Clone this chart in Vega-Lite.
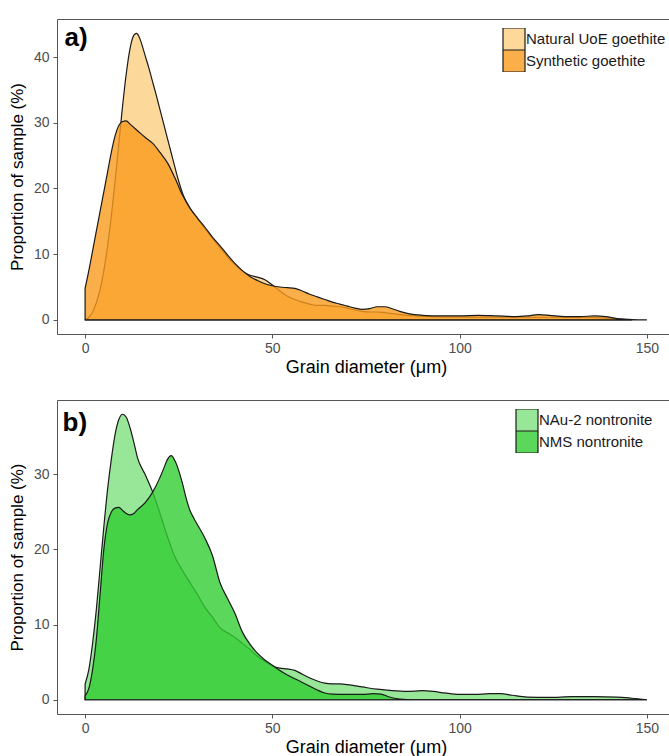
{
  "$schema": "https://vega.github.io/schema/vega-lite/v6.json",
  "padding": {"left": 7, "top": 18, "right": 0, "bottom": 0},
  "bounds": "flush",
  "spacing": 66,
  "config": {
    "font": "Liberation Sans",
    "view": {"stroke": "#555555", "strokeWidth": 1},
    "axis": {"grid": false, "domain": false, "tickColor": "#555555", "tickSize": 4, "labelColor": "#4d4d4d", "labelFontSize": 14, "labelPadding": 3, "titleFontSize": 18, "titleFontWeight": "normal", "titleColor": "#000000"},
    "axisY": {"labelPadding": 4, "titlePadding": 7, "titleFontSize": 17},
    "axisX": {"titlePadding": 3},
    "legend": {"title": null, "padding": 0, "symbolType": "square", "symbolSize": 484, "symbolStrokeColor": "#1a1a1a", "symbolStrokeWidth": 1.2, "symbolOpacity": 1, "labelFontSize": 15, "labelColor": "#1a1a1a", "labelOffset": 0, "rowPadding": 0, "clipHeight": 22}
  },
  "resolve": {"scale": {"fill": "independent"}, "legend": {"fill": "independent"}},
  "datasets": {
    "goethite": [
      {"sample": "Natural UoE goethite", "diameter": 0, "proportion": 0},
      {"sample": "Natural UoE goethite", "diameter": 1, "proportion": 0.4},
      {"sample": "Natural UoE goethite", "diameter": 2, "proportion": 1.2},
      {"sample": "Natural UoE goethite", "diameter": 3, "proportion": 2.6},
      {"sample": "Natural UoE goethite", "diameter": 4, "proportion": 4.6},
      {"sample": "Natural UoE goethite", "diameter": 5, "proportion": 7.5},
      {"sample": "Natural UoE goethite", "diameter": 6, "proportion": 11.2},
      {"sample": "Natural UoE goethite", "diameter": 7, "proportion": 15.8},
      {"sample": "Natural UoE goethite", "diameter": 8, "proportion": 21},
      {"sample": "Natural UoE goethite", "diameter": 9, "proportion": 26.8},
      {"sample": "Natural UoE goethite", "diameter": 10, "proportion": 32.5},
      {"sample": "Natural UoE goethite", "diameter": 11, "proportion": 37.5},
      {"sample": "Natural UoE goethite", "diameter": 12, "proportion": 41.3},
      {"sample": "Natural UoE goethite", "diameter": 13, "proportion": 43.3},
      {"sample": "Natural UoE goethite", "diameter": 13.7, "proportion": 43.6},
      {"sample": "Natural UoE goethite", "diameter": 14.5, "proportion": 43},
      {"sample": "Natural UoE goethite", "diameter": 15, "proportion": 42.2},
      {"sample": "Natural UoE goethite", "diameter": 16, "proportion": 40.3},
      {"sample": "Natural UoE goethite", "diameter": 17, "proportion": 38.4},
      {"sample": "Natural UoE goethite", "diameter": 18, "proportion": 36.3},
      {"sample": "Natural UoE goethite", "diameter": 19, "proportion": 34.2},
      {"sample": "Natural UoE goethite", "diameter": 20, "proportion": 32},
      {"sample": "Natural UoE goethite", "diameter": 21, "proportion": 29.8},
      {"sample": "Natural UoE goethite", "diameter": 22, "proportion": 27.6},
      {"sample": "Natural UoE goethite", "diameter": 23, "proportion": 25.4},
      {"sample": "Natural UoE goethite", "diameter": 24, "proportion": 23.2},
      {"sample": "Natural UoE goethite", "diameter": 25, "proportion": 21.1},
      {"sample": "Natural UoE goethite", "diameter": 26, "proportion": 19.3},
      {"sample": "Natural UoE goethite", "diameter": 28, "proportion": 17},
      {"sample": "Natural UoE goethite", "diameter": 30, "proportion": 15.4},
      {"sample": "Natural UoE goethite", "diameter": 32, "proportion": 13.9},
      {"sample": "Natural UoE goethite", "diameter": 34, "proportion": 12.4},
      {"sample": "Natural UoE goethite", "diameter": 36, "proportion": 11},
      {"sample": "Natural UoE goethite", "diameter": 38, "proportion": 9.6},
      {"sample": "Natural UoE goethite", "diameter": 40, "proportion": 8.4},
      {"sample": "Natural UoE goethite", "diameter": 42, "proportion": 7.4},
      {"sample": "Natural UoE goethite", "diameter": 44, "proportion": 6.8},
      {"sample": "Natural UoE goethite", "diameter": 46, "proportion": 6.5},
      {"sample": "Natural UoE goethite", "diameter": 48, "proportion": 6.1},
      {"sample": "Natural UoE goethite", "diameter": 50, "proportion": 5.3},
      {"sample": "Natural UoE goethite", "diameter": 52, "proportion": 4.4},
      {"sample": "Natural UoE goethite", "diameter": 54, "proportion": 3.6},
      {"sample": "Natural UoE goethite", "diameter": 56, "proportion": 3.1},
      {"sample": "Natural UoE goethite", "diameter": 58, "proportion": 2.7},
      {"sample": "Natural UoE goethite", "diameter": 60, "proportion": 2.4},
      {"sample": "Natural UoE goethite", "diameter": 62, "proportion": 2.2},
      {"sample": "Natural UoE goethite", "diameter": 64, "proportion": 2.2},
      {"sample": "Natural UoE goethite", "diameter": 66, "proportion": 2.1},
      {"sample": "Natural UoE goethite", "diameter": 68, "proportion": 2},
      {"sample": "Natural UoE goethite", "diameter": 70, "proportion": 1.8},
      {"sample": "Natural UoE goethite", "diameter": 72, "proportion": 1.5},
      {"sample": "Natural UoE goethite", "diameter": 74, "proportion": 1.3},
      {"sample": "Natural UoE goethite", "diameter": 76, "proportion": 1.2},
      {"sample": "Natural UoE goethite", "diameter": 78, "proportion": 1.2},
      {"sample": "Natural UoE goethite", "diameter": 80, "proportion": 1.1},
      {"sample": "Natural UoE goethite", "diameter": 84, "proportion": 0.8},
      {"sample": "Natural UoE goethite", "diameter": 88, "proportion": 0.6},
      {"sample": "Natural UoE goethite", "diameter": 92, "proportion": 0.5},
      {"sample": "Natural UoE goethite", "diameter": 100, "proportion": 0.45},
      {"sample": "Natural UoE goethite", "diameter": 110, "proportion": 0.4},
      {"sample": "Natural UoE goethite", "diameter": 120, "proportion": 0.4},
      {"sample": "Natural UoE goethite", "diameter": 130, "proportion": 0.4},
      {"sample": "Natural UoE goethite", "diameter": 138, "proportion": 0.3},
      {"sample": "Natural UoE goethite", "diameter": 143, "proportion": 0.1},
      {"sample": "Natural UoE goethite", "diameter": 146, "proportion": 0},
      {"sample": "Synthetic goethite", "diameter": 0, "proportion": 4.8},
      {"sample": "Synthetic goethite", "diameter": 1, "proportion": 7.5},
      {"sample": "Synthetic goethite", "diameter": 2, "proportion": 10.5},
      {"sample": "Synthetic goethite", "diameter": 3, "proportion": 13.5},
      {"sample": "Synthetic goethite", "diameter": 4, "proportion": 16.5},
      {"sample": "Synthetic goethite", "diameter": 5, "proportion": 19.5},
      {"sample": "Synthetic goethite", "diameter": 6, "proportion": 22.5},
      {"sample": "Synthetic goethite", "diameter": 7, "proportion": 25.5},
      {"sample": "Synthetic goethite", "diameter": 8, "proportion": 28},
      {"sample": "Synthetic goethite", "diameter": 9, "proportion": 29.6},
      {"sample": "Synthetic goethite", "diameter": 10, "proportion": 30.2},
      {"sample": "Synthetic goethite", "diameter": 11, "proportion": 30.3},
      {"sample": "Synthetic goethite", "diameter": 12, "proportion": 29.8},
      {"sample": "Synthetic goethite", "diameter": 14, "proportion": 28.8},
      {"sample": "Synthetic goethite", "diameter": 16, "proportion": 27.8},
      {"sample": "Synthetic goethite", "diameter": 18, "proportion": 26.9},
      {"sample": "Synthetic goethite", "diameter": 20, "proportion": 25.5},
      {"sample": "Synthetic goethite", "diameter": 22, "proportion": 23.9},
      {"sample": "Synthetic goethite", "diameter": 24, "proportion": 21.6},
      {"sample": "Synthetic goethite", "diameter": 26, "proportion": 19},
      {"sample": "Synthetic goethite", "diameter": 28, "proportion": 17},
      {"sample": "Synthetic goethite", "diameter": 30, "proportion": 15.5},
      {"sample": "Synthetic goethite", "diameter": 32, "proportion": 14.1},
      {"sample": "Synthetic goethite", "diameter": 34, "proportion": 12.6},
      {"sample": "Synthetic goethite", "diameter": 36, "proportion": 11.3},
      {"sample": "Synthetic goethite", "diameter": 38, "proportion": 9.9},
      {"sample": "Synthetic goethite", "diameter": 40, "proportion": 8.6},
      {"sample": "Synthetic goethite", "diameter": 42, "proportion": 7.5},
      {"sample": "Synthetic goethite", "diameter": 44, "proportion": 6.6},
      {"sample": "Synthetic goethite", "diameter": 46, "proportion": 6},
      {"sample": "Synthetic goethite", "diameter": 48, "proportion": 5.5},
      {"sample": "Synthetic goethite", "diameter": 50, "proportion": 5.2},
      {"sample": "Synthetic goethite", "diameter": 52, "proportion": 5},
      {"sample": "Synthetic goethite", "diameter": 54, "proportion": 4.9},
      {"sample": "Synthetic goethite", "diameter": 56, "proportion": 4.8},
      {"sample": "Synthetic goethite", "diameter": 58, "proportion": 4.4},
      {"sample": "Synthetic goethite", "diameter": 60, "proportion": 3.9},
      {"sample": "Synthetic goethite", "diameter": 62, "proportion": 3.5},
      {"sample": "Synthetic goethite", "diameter": 64, "proportion": 3.1},
      {"sample": "Synthetic goethite", "diameter": 66, "proportion": 2.7},
      {"sample": "Synthetic goethite", "diameter": 68, "proportion": 2.4},
      {"sample": "Synthetic goethite", "diameter": 70, "proportion": 2.1},
      {"sample": "Synthetic goethite", "diameter": 72, "proportion": 1.8},
      {"sample": "Synthetic goethite", "diameter": 74, "proportion": 1.6},
      {"sample": "Synthetic goethite", "diameter": 76, "proportion": 1.7},
      {"sample": "Synthetic goethite", "diameter": 78, "proportion": 2},
      {"sample": "Synthetic goethite", "diameter": 80, "proportion": 2},
      {"sample": "Synthetic goethite", "diameter": 82, "proportion": 1.7},
      {"sample": "Synthetic goethite", "diameter": 84, "proportion": 1.3},
      {"sample": "Synthetic goethite", "diameter": 86, "proportion": 1},
      {"sample": "Synthetic goethite", "diameter": 88, "proportion": 0.8},
      {"sample": "Synthetic goethite", "diameter": 90, "proportion": 0.7},
      {"sample": "Synthetic goethite", "diameter": 95, "proportion": 0.6},
      {"sample": "Synthetic goethite", "diameter": 100, "proportion": 0.6},
      {"sample": "Synthetic goethite", "diameter": 105, "proportion": 0.7},
      {"sample": "Synthetic goethite", "diameter": 110, "proportion": 0.6},
      {"sample": "Synthetic goethite", "diameter": 115, "proportion": 0.5},
      {"sample": "Synthetic goethite", "diameter": 118, "proportion": 0.6},
      {"sample": "Synthetic goethite", "diameter": 121, "proportion": 0.8},
      {"sample": "Synthetic goethite", "diameter": 124, "proportion": 0.7},
      {"sample": "Synthetic goethite", "diameter": 128, "proportion": 0.5},
      {"sample": "Synthetic goethite", "diameter": 132, "proportion": 0.5},
      {"sample": "Synthetic goethite", "diameter": 136, "proportion": 0.6},
      {"sample": "Synthetic goethite", "diameter": 139, "proportion": 0.5},
      {"sample": "Synthetic goethite", "diameter": 142, "proportion": 0.2},
      {"sample": "Synthetic goethite", "diameter": 146, "proportion": 0.05},
      {"sample": "Synthetic goethite", "diameter": 150, "proportion": 0}
    ],
    "nontronite": [
      {"sample": "NAu-2 nontronite", "diameter": 0, "proportion": 2.1},
      {"sample": "NAu-2 nontronite", "diameter": 1, "proportion": 4},
      {"sample": "NAu-2 nontronite", "diameter": 2, "proportion": 7.5},
      {"sample": "NAu-2 nontronite", "diameter": 3, "proportion": 12},
      {"sample": "NAu-2 nontronite", "diameter": 4, "proportion": 17.5},
      {"sample": "NAu-2 nontronite", "diameter": 5, "proportion": 23},
      {"sample": "NAu-2 nontronite", "diameter": 6, "proportion": 28},
      {"sample": "NAu-2 nontronite", "diameter": 7, "proportion": 32},
      {"sample": "NAu-2 nontronite", "diameter": 8, "proportion": 35.3},
      {"sample": "NAu-2 nontronite", "diameter": 9, "proportion": 37.3},
      {"sample": "NAu-2 nontronite", "diameter": 10, "proportion": 38},
      {"sample": "NAu-2 nontronite", "diameter": 11, "proportion": 37.6},
      {"sample": "NAu-2 nontronite", "diameter": 12, "proportion": 36.2},
      {"sample": "NAu-2 nontronite", "diameter": 13, "proportion": 34.3},
      {"sample": "NAu-2 nontronite", "diameter": 14, "proportion": 32.2},
      {"sample": "NAu-2 nontronite", "diameter": 16, "proportion": 30},
      {"sample": "NAu-2 nontronite", "diameter": 18, "proportion": 27.7},
      {"sample": "NAu-2 nontronite", "diameter": 20, "proportion": 24.8},
      {"sample": "NAu-2 nontronite", "diameter": 22, "proportion": 21.7},
      {"sample": "NAu-2 nontronite", "diameter": 24, "proportion": 19},
      {"sample": "NAu-2 nontronite", "diameter": 26, "proportion": 17.2},
      {"sample": "NAu-2 nontronite", "diameter": 28, "proportion": 15.6},
      {"sample": "NAu-2 nontronite", "diameter": 30, "proportion": 14},
      {"sample": "NAu-2 nontronite", "diameter": 32, "proportion": 12.3},
      {"sample": "NAu-2 nontronite", "diameter": 34, "proportion": 11},
      {"sample": "NAu-2 nontronite", "diameter": 36, "proportion": 9.6},
      {"sample": "NAu-2 nontronite", "diameter": 38, "proportion": 8.9},
      {"sample": "NAu-2 nontronite", "diameter": 40, "proportion": 8.3},
      {"sample": "NAu-2 nontronite", "diameter": 42, "proportion": 7.5},
      {"sample": "NAu-2 nontronite", "diameter": 44, "proportion": 6.7},
      {"sample": "NAu-2 nontronite", "diameter": 46, "proportion": 5.8},
      {"sample": "NAu-2 nontronite", "diameter": 48, "proportion": 5.1},
      {"sample": "NAu-2 nontronite", "diameter": 50, "proportion": 4.5},
      {"sample": "NAu-2 nontronite", "diameter": 52, "proportion": 4.2},
      {"sample": "NAu-2 nontronite", "diameter": 54, "proportion": 4.1},
      {"sample": "NAu-2 nontronite", "diameter": 56, "proportion": 3.9},
      {"sample": "NAu-2 nontronite", "diameter": 58, "proportion": 3.4},
      {"sample": "NAu-2 nontronite", "diameter": 60, "proportion": 2.9},
      {"sample": "NAu-2 nontronite", "diameter": 62, "proportion": 2.5},
      {"sample": "NAu-2 nontronite", "diameter": 64, "proportion": 2.2},
      {"sample": "NAu-2 nontronite", "diameter": 66, "proportion": 2.1},
      {"sample": "NAu-2 nontronite", "diameter": 68, "proportion": 2.1},
      {"sample": "NAu-2 nontronite", "diameter": 70, "proportion": 2},
      {"sample": "NAu-2 nontronite", "diameter": 74, "proportion": 1.7},
      {"sample": "NAu-2 nontronite", "diameter": 78, "proportion": 1.4},
      {"sample": "NAu-2 nontronite", "diameter": 82, "proportion": 1.2},
      {"sample": "NAu-2 nontronite", "diameter": 86, "proportion": 1.1},
      {"sample": "NAu-2 nontronite", "diameter": 90, "proportion": 1.2},
      {"sample": "NAu-2 nontronite", "diameter": 93, "proportion": 1.1},
      {"sample": "NAu-2 nontronite", "diameter": 96, "proportion": 0.9},
      {"sample": "NAu-2 nontronite", "diameter": 100, "proportion": 0.7},
      {"sample": "NAu-2 nontronite", "diameter": 104, "proportion": 0.7},
      {"sample": "NAu-2 nontronite", "diameter": 108, "proportion": 0.8},
      {"sample": "NAu-2 nontronite", "diameter": 111, "proportion": 0.8},
      {"sample": "NAu-2 nontronite", "diameter": 114, "proportion": 0.6},
      {"sample": "NAu-2 nontronite", "diameter": 118, "proportion": 0.35},
      {"sample": "NAu-2 nontronite", "diameter": 124, "proportion": 0.3},
      {"sample": "NAu-2 nontronite", "diameter": 130, "proportion": 0.4},
      {"sample": "NAu-2 nontronite", "diameter": 136, "proportion": 0.4},
      {"sample": "NAu-2 nontronite", "diameter": 142, "proportion": 0.35},
      {"sample": "NAu-2 nontronite", "diameter": 146, "proportion": 0.2},
      {"sample": "NAu-2 nontronite", "diameter": 150, "proportion": 0},
      {"sample": "NMS nontronite", "diameter": 0, "proportion": 0.5},
      {"sample": "NMS nontronite", "diameter": 1, "proportion": 1.5},
      {"sample": "NMS nontronite", "diameter": 2, "proportion": 4},
      {"sample": "NMS nontronite", "diameter": 3, "proportion": 8},
      {"sample": "NMS nontronite", "diameter": 4, "proportion": 14},
      {"sample": "NMS nontronite", "diameter": 5, "proportion": 20},
      {"sample": "NMS nontronite", "diameter": 6, "proportion": 23.5},
      {"sample": "NMS nontronite", "diameter": 7, "proportion": 25},
      {"sample": "NMS nontronite", "diameter": 8, "proportion": 25.5},
      {"sample": "NMS nontronite", "diameter": 9, "proportion": 25.6},
      {"sample": "NMS nontronite", "diameter": 10, "proportion": 25.2},
      {"sample": "NMS nontronite", "diameter": 11, "proportion": 24.8},
      {"sample": "NMS nontronite", "diameter": 12, "proportion": 24.6},
      {"sample": "NMS nontronite", "diameter": 13, "proportion": 24.8},
      {"sample": "NMS nontronite", "diameter": 14, "proportion": 25.3},
      {"sample": "NMS nontronite", "diameter": 16, "proportion": 26.2},
      {"sample": "NMS nontronite", "diameter": 18, "proportion": 27.6},
      {"sample": "NMS nontronite", "diameter": 20, "proportion": 29.6},
      {"sample": "NMS nontronite", "diameter": 21, "proportion": 30.8},
      {"sample": "NMS nontronite", "diameter": 22, "proportion": 32},
      {"sample": "NMS nontronite", "diameter": 23, "proportion": 32.5},
      {"sample": "NMS nontronite", "diameter": 24, "proportion": 31.8},
      {"sample": "NMS nontronite", "diameter": 25, "proportion": 30.5},
      {"sample": "NMS nontronite", "diameter": 26, "proportion": 28.8},
      {"sample": "NMS nontronite", "diameter": 27, "proportion": 26.8},
      {"sample": "NMS nontronite", "diameter": 28, "proportion": 25.2},
      {"sample": "NMS nontronite", "diameter": 29, "proportion": 24.2},
      {"sample": "NMS nontronite", "diameter": 30, "proportion": 23.3},
      {"sample": "NMS nontronite", "diameter": 32, "proportion": 21.5},
      {"sample": "NMS nontronite", "diameter": 34, "proportion": 19.2},
      {"sample": "NMS nontronite", "diameter": 36, "proportion": 15.6},
      {"sample": "NMS nontronite", "diameter": 38, "proportion": 13.5},
      {"sample": "NMS nontronite", "diameter": 40, "proportion": 11.5},
      {"sample": "NMS nontronite", "diameter": 42, "proportion": 9},
      {"sample": "NMS nontronite", "diameter": 44, "proportion": 7.4},
      {"sample": "NMS nontronite", "diameter": 46, "proportion": 6.2},
      {"sample": "NMS nontronite", "diameter": 48, "proportion": 5.3},
      {"sample": "NMS nontronite", "diameter": 50, "proportion": 4.6},
      {"sample": "NMS nontronite", "diameter": 52, "proportion": 3.9},
      {"sample": "NMS nontronite", "diameter": 54, "proportion": 3.3},
      {"sample": "NMS nontronite", "diameter": 56, "proportion": 2.8},
      {"sample": "NMS nontronite", "diameter": 58, "proportion": 2.3},
      {"sample": "NMS nontronite", "diameter": 60, "proportion": 1.8},
      {"sample": "NMS nontronite", "diameter": 62, "proportion": 1.3},
      {"sample": "NMS nontronite", "diameter": 64, "proportion": 0.9},
      {"sample": "NMS nontronite", "diameter": 66, "proportion": 0.75},
      {"sample": "NMS nontronite", "diameter": 70, "proportion": 0.7},
      {"sample": "NMS nontronite", "diameter": 74, "proportion": 0.7},
      {"sample": "NMS nontronite", "diameter": 77, "proportion": 0.8},
      {"sample": "NMS nontronite", "diameter": 79, "proportion": 0.75},
      {"sample": "NMS nontronite", "diameter": 81, "proportion": 0.4},
      {"sample": "NMS nontronite", "diameter": 84, "proportion": 0.1},
      {"sample": "NMS nontronite", "diameter": 88, "proportion": 0},
      {"sample": "NMS nontronite", "diameter": 150, "proportion": 0}
    ]
  },
  "vconcat": [
    {
      "width": 618,
      "height": 315,
      "layer": [
        {
          "data": {"name": "goethite"},
          "mark": {"type": "area", "interpolate": "monotone", "stroke": "#1a1a1a", "strokeWidth": 1.2},
          "encoding": {
            "x": {"field": "diameter", "type": "quantitative", "scale": {"domain": [-7.5, 157.5], "nice": false}, "axis": {"values": [0, 50, 100, 150], "title": "Grain diameter (μm)"}},
            "y": {"field": "proportion", "type": "quantitative", "stack": null, "scale": {"domain": [-2.15, 45.8], "nice": false}, "axis": {"values": [0, 10, 20, 30, 40], "title": "Proportion of sample (%)"}},
            "y2": {"datum": 0},
            "fill": {"field": "sample", "type": "nominal", "scale": {"domain": ["Natural UoE goethite", "Synthetic goethite"], "range": ["rgba(251,177,55,0.5)", "rgba(250,155,29,0.8)"]},
              "legend": {"orient": "none", "legendX": 445, "legendY": 9}}
          }
        },
        {
          "data": {"values": [{"label": "a)"}]},
          "mark": {"type": "text", "fontSize": 26, "fontWeight": "bold", "color": "#000000", "align": "left", "baseline": "alphabetic"},
          "encoding": {
            "x": {"datum": -5.5, "type": "quantitative"},
            "y": {"datum": 41.7, "type": "quantitative"},
            "text": {"field": "label"}
          }
        }
      ]
    },
    {
      "width": 618,
      "height": 314,
      "layer": [
        {
          "data": {"name": "nontronite"},
          "mark": {"type": "area", "interpolate": "monotone", "stroke": "#1a1a1a", "strokeWidth": 1.2},
          "encoding": {
            "x": {"field": "diameter", "type": "quantitative", "scale": {"domain": [-7.5, 157.5], "nice": false}, "axis": {"values": [0, 50, 100, 150], "title": "Grain diameter (μm)"}},
            "y": {"field": "proportion", "type": "quantitative", "stack": null, "scale": {"domain": [-1.9, 39.9], "nice": false}, "axis": {"values": [0, 10, 20, 30], "title": "Proportion of sample (%)"}},
            "y2": {"datum": 0},
            "fill": {"field": "sample", "type": "nominal", "scale": {"domain": ["NAu-2 nontronite", "NMS nontronite"], "range": ["rgba(50,205,50,0.5)", "rgba(50,205,50,0.8)"]},
              "legend": {"orient": "none", "legendX": 458, "legendY": 9}}
          }
        },
        {
          "data": {"values": [{"label": "b)"}]},
          "mark": {"type": "text", "fontSize": 26, "fontWeight": "bold", "color": "#000000", "align": "left", "baseline": "alphabetic"},
          "encoding": {
            "x": {"datum": -6, "type": "quantitative"},
            "y": {"datum": 35.8, "type": "quantitative"},
            "text": {"field": "label"}
          }
        }
      ]
    }
  ]
}
